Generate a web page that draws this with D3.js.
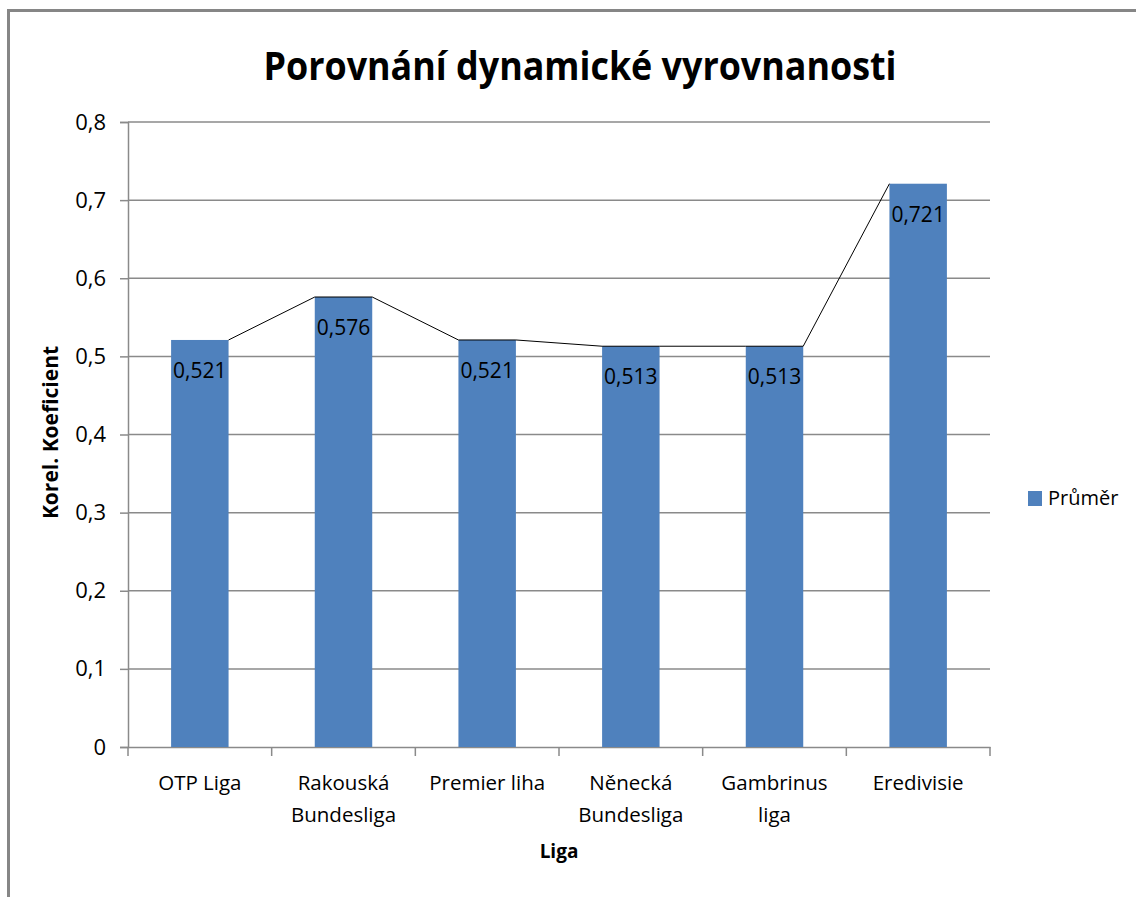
<!DOCTYPE html>
<html>
<head>
<meta charset="utf-8">
<script src="https://cdn.jsdelivr.net/npm/d3@7"></script>
<style>
  body { margin: 0; background: #fff; }
  svg { display: block; font-family: "Open Sans", sans-serif; }
</style>
</head>
<body>
<svg width="1136" height="897"></svg>
<script>
let leagues = [["OTP Liga"], ["Rakouská", "Bundesliga"], ["Premier liha"], ["Něnecká", "Bundesliga"], ["Gambrinus", "liga"], ["Eredivisie"]];
let averages = [0.521, 0.576, 0.521, 0.513, 0.513, 0.721];
let yTicks = [0, 0.1, 0.2, 0.3, 0.4, 0.5, 0.6, 0.7, 0.8];
let seriesName = "Průměr";

let svg = d3.select("svg");
let margin = {top: 122, left: 128, right: 146, bottom: 150};
let width = 1136 - margin.left - margin.right, height = 897 - margin.top - margin.bottom;
let comma = d3.formatLocale({decimal: ",", thousands: " ", grouping: [3], currency: ["", ""]});
let fmt1 = comma.format(".1~f"), fmt3 = comma.format(".3f");

// outer frame (only left and top visible)
svg.append("path").attr("d", "M8.5,897V10.5H1136").attr("fill", "none").attr("stroke", "#868686").attr("stroke-width", 3);

svg.append("text").attr("x", 580).attr("y", 80).attr("text-anchor", "middle")
  .attr("font-size", 40).attr("font-weight", "bold")
  .attr("textLength", 633).attr("lengthAdjust", "spacingAndGlyphs")
  .text("Porovnání dynamické vyrovnanosti");

let x = d3.scaleBand().domain(leagues.map((d, i) => i)).range([0, width]);
let y = d3.scaleLinear().domain([0, 0.8]).range([height, 0]);
let barW = x.bandwidth() * 0.4;

let g = svg.append("g").attr("transform", "translate(" + margin.left + "," + margin.top + ")");

g.selectAll(".grid").data(yTicks.slice(1)).enter().append("line")
  .attr("x1", 0).attr("x2", width).attr("y1", d => y(d)).attr("y2", d => y(d))
  .attr("stroke", "#8a8a8a").attr("stroke-width", 1.5);

let yAxis = g.append("g").call(d3.axisLeft(y).tickValues(yTicks).tickFormat(fmt1).tickSize(8).tickPadding(14));
let xAxis = g.append("g").attr("transform", "translate(0," + height + ")")
  .call(d3.axisBottom(x).tickValues([]).tickSizeOuter(0));
xAxis.selectAll(".tick").remove();

[yAxis, xAxis].forEach(a => {
  a.select(".domain").attr("stroke", "#8a8a8a").attr("stroke-width", 1.5);
  a.selectAll("line").attr("stroke", "#8a8a8a").attr("stroke-width", 1.5);
});
yAxis.selectAll("text").attr("font-size", 22).attr("fill", "#000").attr("font-family", "Open Sans");

// category boundary ticks
g.selectAll(".ctick").data(d3.range(leagues.length + 1)).enter().append("line")
  .attr("x1", d => d * x.step()).attr("x2", d => d * x.step())
  .attr("y1", height).attr("y2", height + 9)
  .attr("stroke", "#8a8a8a").attr("stroke-width", 1.5);

g.selectAll(".bar").data(averages).enter().append("rect")
  .attr("x", (d, i) => x(i) + (x.bandwidth() - barW) / 2)
  .attr("width", barW)
  .attr("y", d => y(d)).attr("height", d => height - y(d))
  .attr("fill", "#4F81BD");

// thin line joining the bar tops across the gaps
let pts = [];
averages.forEach((d, i) => {
  let x0 = x(i) + (x.bandwidth() - barW) / 2;
  if (i > 0) pts.push([x0, y(d)]);
  if (i < averages.length - 1) pts.push([x0 + barW, y(d)]);
});
g.append("path").attr("d", d3.line()(pts)).attr("fill", "none").attr("stroke", "#000").attr("stroke-width", 1);

g.selectAll(".lbl").data(averages).enter().append("text")
  .attr("x", (d, i) => x(i) + x.bandwidth() / 2)
  .attr("y", d => y(d) + 38)
  .attr("text-anchor", "middle").attr("font-size", 21).attr("fill", "#000")
  .text(d => fmt3(d));

let cat = g.selectAll(".cat").data(leagues).enter().append("text")
  .attr("text-anchor", "middle").attr("font-size", 20.5).attr("fill", "#000")
  .attr("transform", (d, i) => "translate(" + (x(i) + x.bandwidth() / 2) + "," + (height + 43) + ")");
cat.selectAll("tspan").data(d => d).enter().append("tspan")
  .attr("x", 0).attr("dy", (d, i) => i ? 32 : 0).text(d => d);

g.append("text").attr("x", width / 2).attr("y", height + 111).attr("text-anchor", "middle")
  .attr("font-size", 19).attr("font-weight", "bold").text("Liga");

g.append("text").attr("transform", "translate(" + (-70) + "," + (height / 2 - 2) + ") rotate(-90)")
  .attr("text-anchor", "middle").attr("font-size", 21).attr("font-weight", "bold").text("Korel. Koeficient");

let legend = svg.append("g").attr("transform", "translate(1028,491)");
legend.append("rect").attr("width", 14).attr("height", 15).attr("fill", "#4F81BD");
legend.append("text").attr("x", 20).attr("y", 14).attr("font-size", 20).text(seriesName);
</script>
</body>
</html>
